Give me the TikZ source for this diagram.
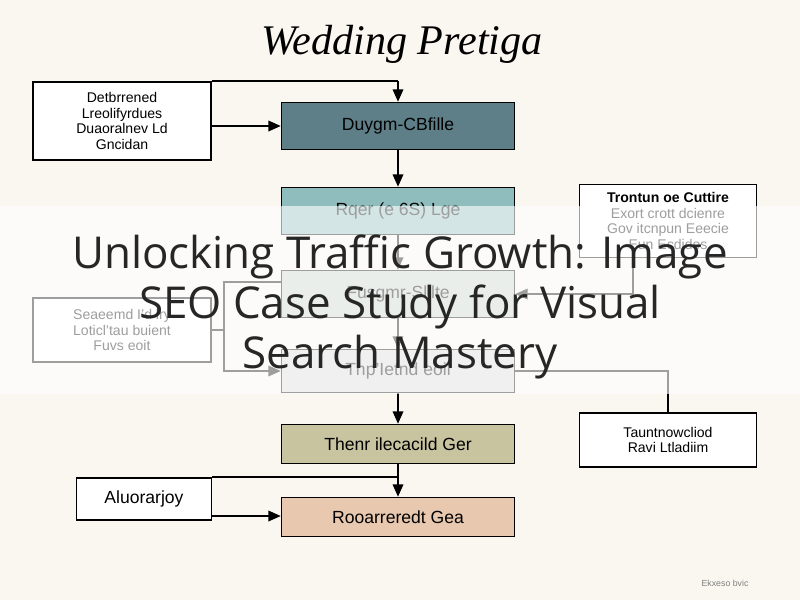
\documentclass[tikz,border=0pt]{standalone}
\usepackage{fontspec}
\setmainfont{Liberation Sans}
\newfontfamily\overlayfont{Open Sans}
\newfontfamily\titlefont{Liberation Serif}
\usetikzlibrary{positioning,arrows.meta}
\definecolor{paper}{HTML}{F9F7F0}
\definecolor{slate}{HTML}{5F7F88}
\definecolor{mist}{HTML}{8FBCBC}
\definecolor{sage}{HTML}{C8D4CC}
\definecolor{fog}{HTML}{D6DAD6}
\definecolor{khaki}{HTML}{C9C4A0}
\definecolor{peach}{HTML}{E8C8AE}

\begin{document}
\begin{tikzpicture}[
    x=0.02cm, y=-0.02cm,
    every node/.style={font=\fontsize{8}{9}\selectfont, align=center},
    box/.style={rectangle, draw, line width=0.9pt, minimum width=4.66cm, minimum height=0.94cm},
    side/.style={rectangle, draw, line width=0.9pt, fill=white},
    link/.style={line width=0.9pt},
    flow/.style={line width=0.9pt, -{Triangle[length=7pt,width=6pt]}}
]
\fill[paper] (0,0) rectangle (800,600);
\useasboundingbox (0,0) rectangle (800,600);

% Title
\node (title) at (402,44) {\titlefont\fontsize{24}{28}\selectfont\itshape Wedding Pretiga};

% Main column
\node[box, fill=slate] (cake) at (398,126) {\fontsize{10}{12}\selectfont Duygm-CBfille};
\node[box, fill=mist] (venue) at (398,211) {\fontsize{10}{12}\selectfont Rqer (e 6S) Lge};
\node[box, fill=sage] (dress) at (398,294) {\fontsize{10}{12}\selectfont Fusgmr-Slllte};
\node[box, fill=fog, minimum height=0.86cm] (menu) at (398,371) {\fontsize{10}{12}\selectfont Thp'Ietnd eoil};
\node[box, fill=khaki, minimum height=0.78cm] (music) at (398,444) {\fontsize{10}{12}\selectfont Thenr ilecacild Ger};
\node[box, fill=peach, minimum height=0.78cm] (party) at (398,517) {\fontsize{10}{12}\selectfont Rooarreredt Gea};

% Side boxes
\node[side, minimum width=3.56cm, minimum height=1.56cm] (budget) at (122,121) {Detbrrened\\Lreolifyrdues\\Duaoralnev Ld\\Gncidan};
\node[side, minimum width=3.54cm, minimum height=1.46cm] (guests) at (668,221) {\textbf{Trontun oe Cuttire}\\Exort crott dcienre\\Gov itcnpun Eeecie\\Eun Ecdidos};
\node[side, minimum width=3.56cm, minimum height=1.28cm] (florist) at (122,330) {Seaeemd I'd lry\\Loticl'tau buient\\Fuvs eoit};
\node[side, minimum width=3.54cm, minimum height=1.08cm] (photo) at (668,440) {Tauntnowcliod\\Ravi Ltladiim};
\node[side, minimum width=2.7cm, minimum height=0.84cm] (rings) at (144,499) {\fontsize{10}{12}\selectfont Aluorarjoy};
\node[font=\fontsize{5}{6}\selectfont, text=gray] (note) at (725,583) {Ekxeso bvic};

% Arrows
\draw[link] (budget.north east) -- (cake.north |- budget.north east);
\draw[flow] (cake.north |- budget.north east) -- (cake.north);
\draw[flow] (budget.east |- cake.west) -- (cake.west);
\draw[flow] (cake) -- (venue);
\draw[flow] (venue) -- (dress);
\draw[flow] (guests.south -| 633,0) |- (dress.east);
\draw[link] (florist.east) -- (224,330) |- (dress.west |- 0,282);
\draw[flow] (224,330) |- (menu.west);
\draw[flow] (dress) -- (menu);
\draw[link] (menu.east) -| (photo.north);
\draw[flow] (menu) -- (music);
\draw[flow] (music) -- (party);
\draw[link] (rings.north east) -- (party.north |- rings.north east);
\draw[flow] (rings.east |- 0,516) -- (party.west |- 0,516);

% Overlay
\fill[white, opacity=0.62] (0,206) rectangle (800,394);
\node[font=\overlayfont\fontsize{25}{28.5}\selectfont, text=black!85] (banner) at (400,307)
    {Unlocking Traffic Growth: Image\\SEO Case Study for Visual\\Search Mastery};
\end{tikzpicture}
\end{document}
